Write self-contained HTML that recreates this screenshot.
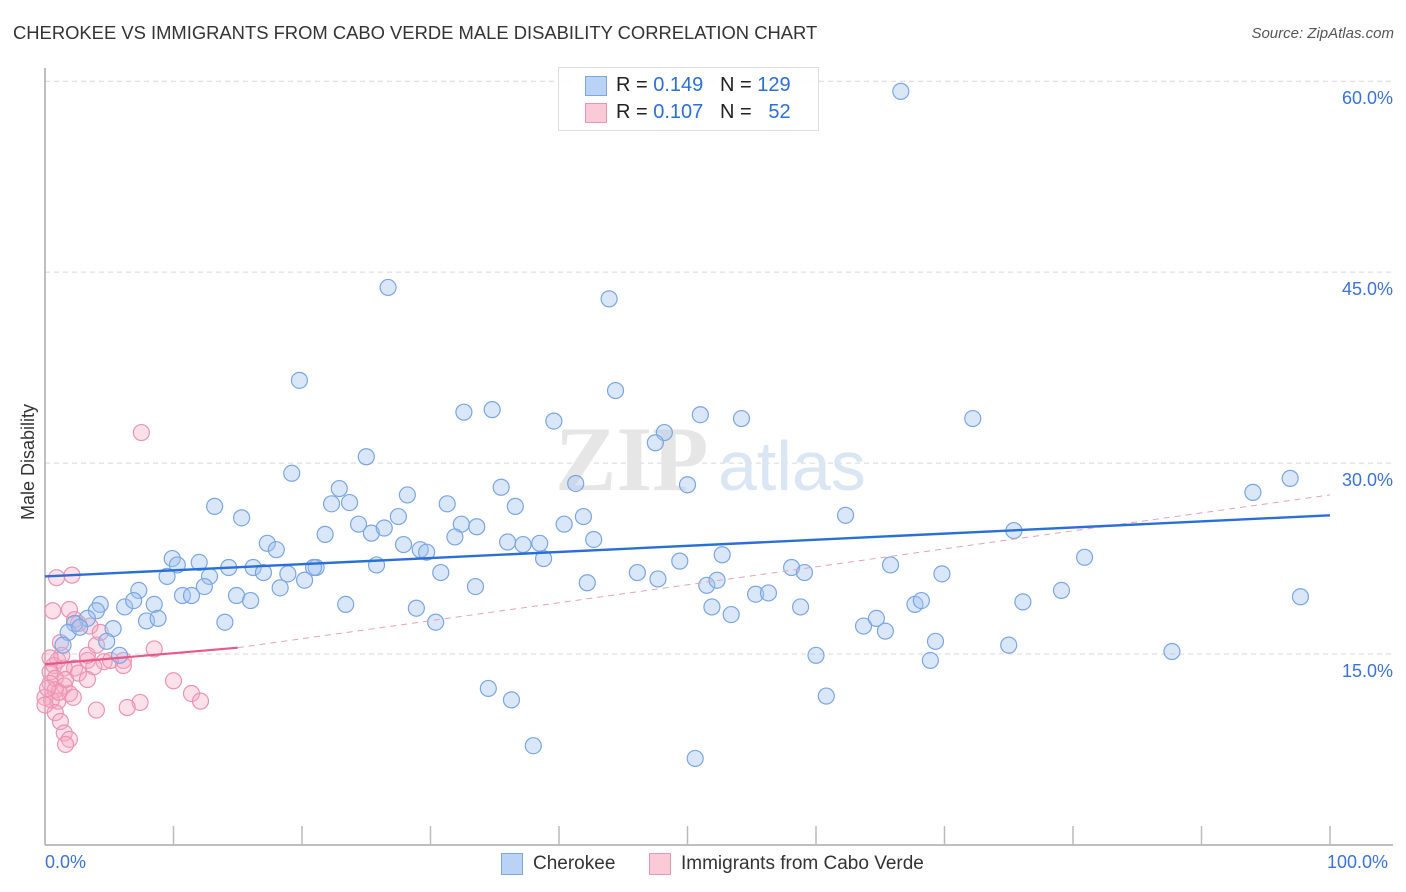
<!DOCTYPE html>
<html><head><meta charset="utf-8"><style>
body{margin:0;background:#fff;font-family:"Liberation Sans",sans-serif}
#wrap{position:relative;width:1406px;height:892px;overflow:hidden}
.t{position:absolute;white-space:nowrap}
</style></head><body>
<div id="wrap">
<div class="t" style="left:13px;top:22px;font-size:18.4px;color:#333">CHEROKEE VS IMMIGRANTS FROM CABO VERDE MALE DISABILITY CORRELATION CHART</div>
<div class="t" style="right:12px;top:25px;font-size:15px;color:#555;font-style:italic">Source: ZipAtlas.com</div>
<svg id="svg" width="1406" height="892" style="position:absolute;left:0;top:0"></svg>
</div>
<script>
const yTicks=[15,30,45,60];
const yTickLabels=["15.0%","30.0%","45.0%","60.0%"];
const blueX=[66.6,56.8,26.7,43.9,19.8,44.4,32.6,34.8,51.0,54.2,39.6,72.2,48.2,47.5,25.0,19.2,50.0,41.3,35.5,96.9,94.0,13.2,15.3,22.3,22.9,23.7,28.2,31.3,36.6,41.9,27.5,24.4,25.4,26.4,32.4,33.6,40.4,62.3,75.4,21.8,17.3,18.0,27.9,29.2,29.7,31.9,36.0,37.2,38.5,42.7,38.8,52.7,49.4,9.9,12.0,10.3,14.3,16.2,17.0,18.9,21.1,20.9,25.8,30.8,46.1,47.7,58.1,59.1,65.8,69.8,80.9,9.5,12.8,20.2,7.3,10.7,11.4,12.4,14.9,16.0,18.3,33.5,42.2,51.5,52.3,55.3,56.3,79.1,97.7,4.3,6.2,6.9,8.5,4.0,3.3,23.4,28.9,51.9,58.8,67.7,68.2,76.1,7.9,8.8,14.0,30.4,53.4,63.7,64.7,65.4,2.3,5.3,1.8,2.7,1.4,4.8,69.3,75.0,5.8,60.0,68.9,87.7,34.5,36.3,60.8,38.0,50.6];
const blueY=[59.2,60.2,43.8,42.9,36.5,35.7,34.0,34.2,33.8,33.5,33.3,33.5,32.4,31.6,30.5,29.2,28.3,28.4,28.1,28.8,27.7,26.6,25.7,26.8,28.0,26.9,27.5,26.8,26.6,25.8,25.8,25.2,24.5,24.9,25.2,25.0,25.2,25.9,24.7,24.4,23.7,23.2,23.6,23.2,23.0,24.2,23.8,23.6,23.7,24.0,22.5,22.8,22.3,22.5,22.2,22.0,21.8,21.8,21.4,21.3,21.8,21.8,22.0,21.4,21.4,20.9,21.8,21.4,22.0,21.3,22.6,21.1,21.1,20.8,20.0,19.6,19.6,20.3,19.6,19.2,20.2,20.3,20.6,20.4,20.8,19.7,19.8,20.0,19.5,18.9,18.7,19.2,18.9,18.4,17.8,18.9,18.6,18.7,18.7,18.9,19.2,19.1,17.6,17.8,17.5,17.5,18.1,17.2,17.8,16.8,17.4,17.0,16.7,17.1,15.7,16.0,16.0,15.7,14.9,14.9,14.5,15.2,12.3,11.4,11.7,7.8,6.8];
const pinkX=[7.5,0.9,2.1,0.6,1.9,3.5,2.6,1.2,1.0,0.7,4.0,3.3,4.6,6.1,8.5,2.3,1.5,0.4,0.8,2.6,3.8,0.4,1.5,1.9,0.8,1.0,0.5,0.0,2.2,3.3,1.1,6.1,10.0,11.4,12.1,7.4,6.4,4.0,0.8,1.2,1.5,1.9,1.6,0.2,1.3,0.4,5.1,2.3,4.3,1.6,0.0,3.3];
const pinkY=[32.4,21.0,21.2,18.4,18.5,17.2,17.4,15.9,14.5,14.1,15.7,14.5,14.4,14.5,15.4,13.9,13.9,13.6,13.1,13.5,14.0,12.7,12.5,11.9,12.2,11.3,11.4,11.6,11.6,13.0,12.0,14.1,12.9,11.9,11.3,11.2,10.8,10.6,10.4,9.7,8.8,8.3,7.9,12.3,14.9,14.7,14.5,17.7,16.7,13.0,11.0,14.9];
const blueTrend=[[0,21.1],[100,25.9]];
const pinkTrendSolid=[[0,14.2],[15,15.5]];
const pinkTrendDash=[[15,15.5],[100,27.5]];
const X0=45,X1=1330,Y0=845,PPY=12.73;
const sx=v=>X0+v*(X1-X0)/100, sy=v=>Y0-v*PPY;
const svg=document.getElementById('svg');const NS='http://www.w3.org/2000/svg';
function mk(tag,attrs,parent){const e=document.createElementNS(NS,tag);for(const k in attrs)e.setAttribute(k,attrs[k]);(parent||svg).appendChild(e);return e;}
yTicks.forEach((v,i)=>{
 const g=mk('line',{x1:45,x2:1393,y1:sy(v),y2:sy(v),stroke:'#d8d8d8','stroke-dasharray':'5,4'});
 
 
 const t=mk('text',{x:1393,y:sy(v)+23,'text-anchor':'end','font-size':18,fill:'#3a72d8','font-family':'Liberation Sans'});
 t.textContent=yTickLabels[i];
 
 
});
const wm=mk('text',{x:555,y:490,'font-size':92,fill:'#e6e6e6','font-family':'Liberation Serif','font-weight':'bold'});wm.textContent='ZIP';


const wm2=mk('text',{x:718,y:490,'font-size':70,fill:'#dbe6f5','font-family':'Liberation Sans'});wm2.textContent='atlas';


const ax=mk('line',{x1:45,x2:45,y1:68,y2:845,stroke:'#aaa','stroke-width':1.5});


const bx=mk('line',{x1:45,x2:1393,y1:845,y2:845,stroke:'#aaa','stroke-width':1.5});


for(let i=1;i<=10;i++){const tk=mk('line',{x1:sx(i*10),x2:sx(i*10),y1:826,y2:845,stroke:'#bbb','stroke-width':1.5});
 
 }
pinkX.forEach((v,i)=>{const c=mk('circle',{cx:sx(v),cy:sy(pinkY[i]),r:8,fill:'rgba(246,170,196,0.35)',stroke:'#eb93b2','stroke-width':1.2});
 
 });
blueX.forEach((v,i)=>{const c=mk('circle',{cx:sx(v),cy:sy(blueY[i]),r:8,fill:'rgba(160,195,240,0.4)',stroke:'#7aa6e4','stroke-width':1.2});
 
 });
const pd=mk('line',{x1:sx(pinkTrendDash[0][0]),y1:sy(pinkTrendDash[0][1]),x2:sx(pinkTrendDash[1][0]),y2:sy(pinkTrendDash[1][1]),stroke:'#e9a0b8','stroke-width':1,'stroke-dasharray':'6,5'});


const ps=mk('line',{x1:sx(pinkTrendSolid[0][0]),y1:sy(pinkTrendSolid[0][1]),x2:sx(pinkTrendSolid[1][0]),y2:sy(pinkTrendSolid[1][1]),stroke:'#e8588a','stroke-width':2.2});


const bl=mk('line',{x1:sx(blueTrend[0][0]),y1:sy(blueTrend[0][1]),x2:sx(blueTrend[1][0]),y2:sy(blueTrend[1][1]),stroke:'#2a6fd6','stroke-width':2.4});


</script>
<div class="t" style="left:18px;top:520px;transform:rotate(-90deg);transform-origin:0 0;font-size:18px;color:#333">Male Disability</div>
<div class="t" style="left:45px;top:852px;font-size:18px;color:#3a72d8">0.0%</div>
<div class="t" style="left:1327px;top:852px;font-size:18px;color:#3a72d8">100.0%</div>
<div style="position:absolute;left:558px;top:67px;width:259px;height:62px;border:1px solid #ddd;background:rgba(255,255,255,0.9)">
 <div style="position:absolute;left:26px;top:8px;width:20px;height:18px;background:#b9d2f6;border:1px solid #7aa6e4"></div>
 <div class="t" style="left:57px;top:6px;font-size:20px;color:#222">R = <span style="color:#2a6fd6">0.149</span>&nbsp;&nbsp;&nbsp;N = <span style="color:#2a6fd6">129</span></div>
 <div style="position:absolute;left:26px;top:35px;width:20px;height:18px;background:#fbcad8;border:1px solid #eb93b2"></div>
 <div class="t" style="left:57px;top:33px;font-size:20px;color:#222">R = <span style="color:#2a6fd6">0.107</span>&nbsp;&nbsp;&nbsp;N = &nbsp;&nbsp;<span style="color:#2a6fd6">52</span></div>
</div>
<div style="position:absolute;left:501px;top:853px;width:20px;height:20px;background:#b9d2f6;border:1px solid #7aa6e4"></div>
<div class="t" style="left:533px;top:853px;font-size:19px;color:#333">Cherokee</div>
<div style="position:absolute;left:649px;top:853px;width:20px;height:20px;background:#fbcad8;border:1px solid #eb93b2"></div>
<div class="t" style="left:681px;top:853px;font-size:19px;color:#333">Immigrants from Cabo Verde</div>
</body></html>
